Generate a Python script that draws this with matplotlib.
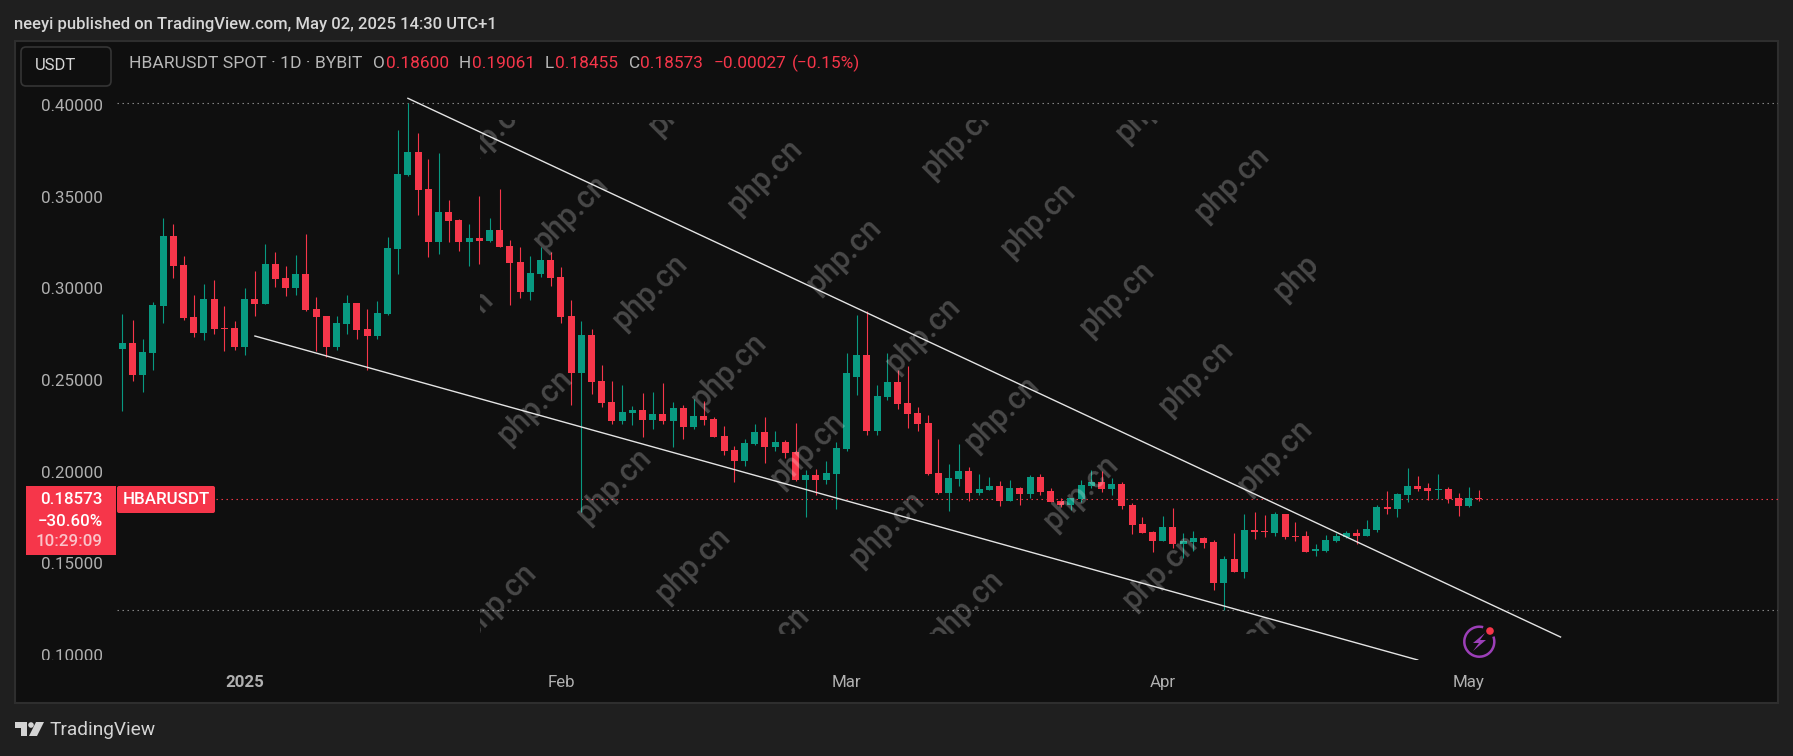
"""HBARUSDT daily candles with a falling wedge, TradingView dark layout."""
import matplotlib

matplotlib.use("Agg")
import matplotlib.dates as mdates
import matplotlib.pyplot as plt
import numpy as np
import pandas as pd
from matplotlib.patches import Arc, Circle, FancyBboxPatch, Polygon, Rectangle

# daily bars, 2024-12-20 .. 2025-05-02
opens = [
    .2677, .2709, .2535, .2655, .2911, .3293, .3135, .2851, .2764, .2949,
    .2791, .2791, .2688, .2949, .2922, .3140, .3064, .3009, .3086, .2895,
    .2857, .2688, .2813, .2927, .2786, .2748, .2867, .3221, .3625, .3751,
    .3549, .3260, .3424, .3380, .3260, .3282, .3266, .3325, .3239, .3151,
    .2987, .3086, .3162, .3069, .2857, .2548, .2753, .2502, .2388, .2284,
    .2328, .2344, .2290, .2322, .2284, .2355, .2251, .2311, .2295, .2202,
    .2126, .2066, .2159, .2224, .2142, .2170, .2115, .1962, .1990, .1962,
    .1995, .2131, .2524, .2644, .2230, .2415, .2497, .2382, .2328, .2273,
    .2000, .1892, .1968, .2011, .1892, .1908, .1930, .1848, .1919, .1886,
    .1979, .1902, .1848, .1826, .1859, .1930, .1951, .1913, .1941, .1826,
    .1722, .1679, .1630, .1706, .1613, .1624, .1646, .1624, .1401, .1532,
    .1461, .1689, .1684, .1673, .1777, .1657, .1657, .1577, .1575, .1630,
    .1652, .1673, .1657, .1689, .1815, .1804, .1881, .1930, .1919, .1909,
    .1913, .1864, .1821, .18600,
]
highs = [
    .2867, .2835, .2731, .2933, .3391, .3358, .3184, .2971, .3031, .3053,
    .2911, .2829, .3009, .3102, .3249, .3205, .3129, .3189, .3303, .2960,
    .2857, .2857, .2971, .2927, .2895, .2938, .3287, .3871, .4016, .3854,
    .3713, .3745, .3489, .3386, .3358, .3511, .3391, .3549, .3271, .3233,
    .3184, .3233, .3205, .3125, .2944, .2829, .2786, .2590, .2502, .2480,
    .2366, .2435, .2442, .2491, .2388, .2371, .2404, .2393, .2306, .2257,
    .2148, .2186, .2268, .2306, .2230, .2181, .2273, .2017, .2022, .2066,
    .2170, .2655, .2862, .2884, .2480, .2655, .2562, .2584, .2360, .2317,
    .2186, .2050, .2159, .2033, .1995, .1979, .1957, .1962, .1924, .1990,
    .1995, .1919, .1864, .1864, .1962, .2017, .2011, .1973, .1951, .1837,
    .1761, .1684, .1766, .1810, .1673, .1684, .1652, .1635, .1548, .1673,
    .1777, .1788, .1772, .1788, .1777, .1733, .1684, .1613, .1662, .1673,
    .1684, .1695, .1744, .1826, .1902, .1892, .2028, .1984, .1946, .1995,
    .1924, .1892, .1924, .19061,
]
lows = [
    .2339, .2502, .2442, .2562, .2818, .3064, .2835, .2742, .2726, .2758,
    .2666, .2672, .2644, .2857, .2922, .3015, .2965, .2971, .2884, .2666,
    .2633, .2672, .2758, .2731, .2562, .2731, .2862, .3086, .3620, .3407,
    .3178, .3195, .3260, .3211, .3129, .3140, .3260, .3233, .2917, .2954,
    .2944, .3069, .3020, .2818, .2371, .1790, .2430, .2360, .2268, .2268,
    .2262, .2197, .2240, .2268, .2142, .2186, .2240, .2262, .2197, .2099,
    .1951, .2039, .2153, .2055, .2120, .2083, .1957, .1761, .1881, .1941,
    .1804, .2120, .2426, .2208, .2208, .2399, .2350, .2246, .2230, .1990,
    .1886, .1793, .1930, .1848, .1881, .1908, .1821, .1848, .1826, .1864,
    .1881, .1842, .1815, .1799, .1842, .1919, .1897, .1881, .1804, .1668,
    .1673, .1569, .1630, .1591, .1537, .1575, .1591, .1363, .1253, .1461,
    .1428, .1641, .1652, .1657, .1641, .1630, .1569, .1548, .1569, .1624,
    .1646, .1613, .1657, .1679, .1777, .1761, .1842, .1902, .1853, .1859,
    .1837, .1766, .1815, .18455,
]
closes = [
    .2709, .2535, .2660, .2917, .3293, .3129, .2846, .2764, .2949, .2786,
    .2786, .2688, .2949, .2922, .3140, .3058, .3009, .3086, .2889, .2851,
    .2688, .2818, .2927, .2780, .2748, .2873, .3227, .3631, .3751, .3544,
    .3260, .3424, .3375, .3260, .3282, .3266, .3325, .3233, .3145, .2987,
    .3091, .3162, .3064, .2851, .2548, .2753, .2497, .2382, .2284, .2333,
    .2344, .2290, .2322, .2284, .2355, .2251, .2311, .2290, .2197, .2120,
    .2066, .2164, .2224, .2142, .2170, .2110, .1962, .1990, .1962, .2000,
    .2137, .2548, .2644, .2230, .2420, .2497, .2377, .2322, .2268, .1995,
    .1892, .1973, .2011, .1892, .1913, .1930, .1848, .1919, .1886, .1979,
    .1897, .1842, .1826, .1864, .1935, .1951, .1913, .1941, .1821, .1717,
    .1673, .1630, .1706, .1613, .1630, .1646, .1619, .1401, .1532, .1461,
    .1689, .1679, .1679, .1777, .1652, .1652, .1569, .1581, .1635, .1657,
    .1673, .1657, .1695, .1815, .1804, .1886, .1930, .1913, .1902, .1913,
    .1859, .1821, .1864, .18573,
]

# trend lines: anchor dates and prices
upper_dates = ["2025-01-17", "2025-05-10"]
upper_prices = [.40436, .11063]
lower_dates = ["2025-01-02", "2025-04-26"]
lower_prices = [.27475, .09810]

price_ticks = [.10, .15, .20, .25, .30, .35, .40]
month_ticks = ["2025-01-01", "2025-02-01", "2025-03-01", "2025-04-01", "2025-05-01"]
month_labels = ["2025", "Feb", "Mar", "Apr", "May"]

UP, DOWN = "#089981", "#f6364a"
W, H = 1793, 756
plt.rcParams["font.family"] = ["Roboto", "DejaVu Sans"]

dates = pd.date_range("2024-12-20", periods=len(opens))
x = mdates.date2num(dates)
o, hi, lo, c = map(np.array, (opens, highs, lows, closes))
colors = np.where(c >= o, UP, DOWN)

fig = plt.figure(figsize=(W / 100, H / 100), dpi=100, facecolor="#1f1f1f")

# chrome behind the pane
back = fig.add_axes([0, 0, 1, 1], zorder=0)
back.set_xlim(0, W)
back.set_ylim(H, 0)
back.axis("off")
back.add_patch(Rectangle((15, 41), 1763, 662, fc="#0f0f0f", ec="#2e2e2e", lw=1.5))

# price pane
ax = fig.add_axes([15 / W, (H - 660) / H, 1763 / W, 619 / H], zorder=1)
ax.patch.set_visible(False)
for s in ax.spines.values():
    s.set_visible(False)
ax.set_xlim(x[0] - 10.52, x[0] + 162.32)
ax.set_ylim(.09809, .43561)

ax.vlines(x, lo, hi, colors=colors, lw=0.8, zorder=3)
body = np.maximum(np.abs(c - o), .0007)
ax.bar(x, body, bottom=np.minimum(o, c), width=0.68, color=colors, lw=0, zorder=4)

ax.plot(mdates.date2num(pd.to_datetime(upper_dates)), upper_prices, color="#e4e4e4", lw=1.0, zorder=5)
ax.plot(mdates.date2num(pd.to_datetime(lower_dates)), lower_prices, color="#e4e4e4", lw=1.0, zorder=5)

dots = (0, (1.3, 3.2))
ax.axhline(hi.max(), xmin=.058, color="#8a8a8a", lw=0.8, ls=dots, zorder=2)
ax.axhline(lo.min(), xmin=.058, color="#8a8a8a", lw=0.8, ls=dots, zorder=2)
ax.axhline(c[-1], xmin=.114, color=DOWN, lw=0.8, ls=dots, zorder=2)

ax.set_yticks(price_ticks)
ax.set_yticklabels([f"{p:.5f}" for p in price_ticks])
ax.tick_params(axis="y", length=0, pad=-63.4, labelsize=12.2, labelcolor="#b0b0b0")
for t in ax.get_yticklabels():
    t.set_verticalalignment("center")
    t.set_clip_on(True)
    t.set_clip_box(ax.bbox)

ax.set_xticks(mdates.date2num(pd.to_datetime(month_ticks)))
ax.set_xticklabels(month_labels)
ax.tick_params(axis="x", length=0, pad=10.5, labelsize=12.2, labelcolor="#b0b0b0")
ax.get_xticklabels()[0].set_fontweight("bold")

# everything that sits over the candles, in pixel coordinates
top = fig.add_axes([0, 0, 1, 1], zorder=2)
top.set_xlim(0, W)
top.set_ylim(H, 0)
top.axis("off")
top.patch.set_visible(False)

# php.cn watermark lattice, cut off by its own box
mark_box = Rectangle((480, 120), 836, 514, transform=top.transData)
for m in range(-3, 5):
    for n in range(-2, 7):
        wx = 571 + 194 * m + 79 * n
        wy = 213 - 36 * m + 79 * n
        if 420 < wx < 1370 and 70 < wy < 700:
            t = top.text(wx, wy, "php.cn", rotation=45, rotation_mode="anchor", ha="center", va="center",
                         fontsize=22, fontweight="medium", color="white", alpha=0.24)
            t.set_clip_path(mark_box)
            t.set_clip_on(True)

# header and legend
top.text(14, 24.5, "neeyi published on TradingView.com, May 02, 2025 14:30 UTC+1", color="#d6d6d6",
         fontsize=12, fontweight="medium", va="center")
top.add_patch(FancyBboxPatch((24, 50), 84, 33, boxstyle="round,pad=3,rounding_size=5", fc="#0f0f0f", ec="#353535", lw=1.2))
top.text(35, 66, "USDT", color="#d6d6d6", fontsize=12, va="center")
legend_items = [
    (373, "O", "#b8b8b8"), (386, "0.18600", DOWN),
    (459, "H", "#b8b8b8"), (472, "0.19061", DOWN), (545, "L", "#b8b8b8"), (555, "0.18455", DOWN),
    (629, "C", "#b8b8b8"), (640, "0.18573", DOWN), (714, "−0.00027", DOWN), (792, "(−0.15%)", DOWN),
]
top.text(129, 63, "HBARUSDT SPOT · 1D · BYBIT", color="#b8b8b8", fontsize=12.6, va="center")
for lx, txt, col in legend_items:
    top.text(lx, 63, txt, color=col, fontsize=12.4, va="center")

# last price tags
top.add_patch(Rectangle((26, 486), 90, 69, fc=DOWN, lw=0))
top.add_patch(FancyBboxPatch((118, 487), 96, 25, boxstyle="round,pad=1,rounding_size=2", fc=DOWN, lw=0))
top.text(103, 500, "0.18573", color="white", fontsize=12.2, fontweight="medium", ha="right", va="center")
top.text(103, 522, "−30.60%", color="white", fontsize=12.2, fontweight="medium", ha="right", va="center")
top.text(103, 542, "10:29:09", color="#fbc3c9", fontsize=12.2, fontweight="medium", ha="right", va="center")
top.text(166, 500, "HBARUSDT", color="white", fontsize=12.2, fontweight="medium", ha="center", va="center")

# lightning badge
top.add_patch(Arc((1479.3, 641.7), 30, 30, theta1=-20, theta2=285, ec="#9c3fb8", lw=1.8))
top.add_patch(Polygon([(1485, 633), (1473, 643), (1479, 643), (1473, 651), (1486, 640), (1480, 640)],
                      fc="#9c3fb8", lw=0))
top.add_patch(Circle((1490, 631), 3.8, fc="#f6364a", lw=0))

# logo
logo = "#d4d4d4"
top.add_patch(Polygon([(15, 722), (27, 722), (27, 736), (21, 736), (21, 728), (15, 728)], fc=logo, lw=0))
top.add_patch(Circle((31, 725), 2.8, fc=logo, lw=0))
top.add_patch(Polygon([(36, 722), (44, 722), (37, 736), (29, 736)], fc=logo, lw=0))
top.text(49, 730, "TradingView", color=logo, fontsize=13.8, va="center")

fig.savefig("out.png", dpi=100, facecolor=fig.get_facecolor())
